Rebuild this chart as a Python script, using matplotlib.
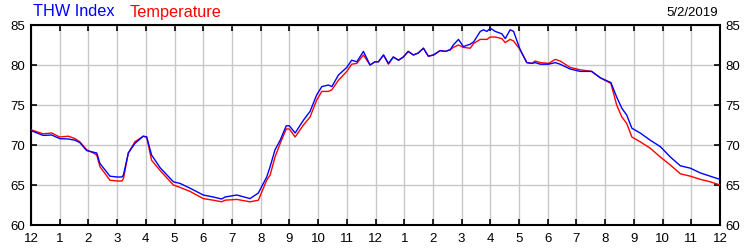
import matplotlib
matplotlib.use("Agg")
import matplotlib.pyplot as plt

hours = [0.0, 0.42, 0.72, 1.0, 1.3, 1.53, 1.7, 1.94, 2.17, 2.29, 2.4, 2.75, 3.0, 3.17, 3.22,
         3.39, 3.62, 3.91, 4.03, 4.2, 4.5, 4.96, 5.19, 5.54, 6.0, 6.35, 6.64, 6.76, 7.17,
         7.63, 7.92, 8.21, 8.33, 8.5, 8.68, 8.89, 9.0, 9.2, 9.49, 9.72, 9.95, 10.13, 10.36,
         10.48, 10.71, 11.0, 11.17, 11.35, 11.58, 11.81, 11.98, 12.1, 12.28, 12.45, 12.62,
         12.8, 12.97, 13.14, 13.32, 13.49, 13.67, 13.84, 14.02, 14.25, 14.43, 14.6, 14.71,
         14.89, 15.06, 15.3, 15.42, 15.65, 15.76, 15.88, 16.0, 16.17, 16.4, 16.52, 16.69,
         16.81, 17.04, 17.27, 17.45, 17.56, 17.74, 18.03, 18.26, 18.43, 18.78, 19.13, 19.53,
         19.83, 20.2, 20.4, 20.58, 20.75, 20.93, 21.22, 21.57, 21.92, 22.27, 22.62, 22.97,
         23.32, 23.66, 24.0]

temperature = [71.9, 71.4, 71.5, 71.0, 71.1, 70.8, 70.4, 69.4, 69.0, 68.75, 67.3, 65.6, 65.5, 65.5, 65.8,
               69.0, 70.4, 71.1, 71.0, 68.1, 66.8, 65.0, 64.7, 64.2, 63.3, 63.1, 62.9, 63.1, 63.2,
               62.9, 63.1, 65.6, 66.25, 68.5, 70.2, 72.0, 72.0, 71.0, 72.5, 73.5, 75.6, 76.7, 76.7,
               76.9, 78.1, 79.2, 80.1, 80.2, 81.25, 80.0, 80.4, 80.4, 81.25, 80.1, 81.0,
               80.6, 81.0, 81.7, 81.25, 81.5, 82.1, 81.1, 81.25, 81.8, 81.7, 81.9, 82.2,
               82.5, 82.2, 82.1, 82.7, 83.2, 83.2, 83.2, 83.5, 83.5, 83.3, 82.8, 83.2,
               83.0, 81.9, 80.3, 80.2, 80.5, 80.3, 80.2, 80.7, 80.5, 79.7, 79.4, 79.2,
               78.4, 77.7, 75.0, 73.5, 72.7, 71.0, 70.4, 69.6, 68.5, 67.5, 66.4, 66.1,
               65.7, 65.4, 65.0]

thw_index = [71.8, 71.2, 71.25, 70.8, 70.75, 70.6, 70.3, 69.3, 69.1, 69.0, 67.7, 66.1, 66.0, 66.0, 66.25,
             69.0, 70.2, 71.1, 71.0, 68.75, 67.15, 65.4, 65.2, 64.6, 63.75, 63.5, 63.25, 63.5, 63.75,
             63.3, 64.0, 66.0, 67.3, 69.4, 70.6, 72.4, 72.4, 71.5, 73.1, 74.2, 76.25, 77.3, 77.5,
             77.3, 78.75, 79.7, 80.6, 80.4, 81.7, 80.0, 80.4, 80.4, 81.25, 80.2, 81.0,
             80.6, 81.0, 81.7, 81.25, 81.5, 82.1, 81.1, 81.25, 81.8, 81.7, 81.9, 82.5,
             83.2, 82.3, 82.6, 82.9, 84.2, 84.4, 84.2, 84.6, 84.2, 83.9, 83.3, 84.4,
             84.2, 81.9, 80.3, 80.2, 80.3, 80.1, 80.1, 80.3, 80.1, 79.5, 79.2, 79.2,
             78.4, 77.8, 76.0, 74.6, 73.75, 72.1, 71.5, 70.6, 69.8, 68.5, 67.4, 67.1,
             66.5, 66.1, 65.7]

xtick_labels = ["12", "1", "2", "3", "4", "5", "6", "7", "8", "9", "10", "11",
                "12", "1", "2", "3", "4", "5", "6", "7", "8", "9", "10", "11", "12"]
ytick_values = [60, 65, 70, 75, 80, 85]
date_label = "5/2/2019"

plt.rcParams['font.family'] = ['Liberation Sans', 'DejaVu Sans']

fig = plt.figure(figsize=(7.5, 2.5), dpi=100)
ax = fig.add_axes([31/750, 25/250, (720-31)/750, 200/250])

ax.plot(hours, temperature, color='#ff0000', lw=1.0, zorder=3)
ax.plot(hours, thw_index, color='#0000ff', lw=1.0, zorder=4)

ax.set_xlim(0, 24)
ax.set_ylim(60, 85)
ax.set_xticks(range(25))
ax.set_xticklabels(xtick_labels)
ax.set_yticks(ytick_values)
ax.grid(True, color='#c8c8c8', lw=1.0)
ax.set_axisbelow(True)
ax.tick_params(axis='both', direction='in', length=4, width=1.2, colors='black',
               labelsize=9.5, top=True, right=True, labelright=True, pad=4)
ax.tick_params(axis='x', pad=6)
for s in ax.spines.values():
    s.set_linewidth(1.5)
    s.set_color('black')

fig.text(33/750, 1 - 12/250, "THW Index", color='#0000ff', fontsize=11.7, va='center', ha='left')
fig.text(130/750, 1 - 12/250, "Temperature", color='#ff0000', fontsize=11.7, va='center', ha='left')
fig.text(718/750, 1 - 13/250, date_label, color='black', fontsize=9.5, va='center', ha='right')

fig.savefig("out.png", dpi=100)
